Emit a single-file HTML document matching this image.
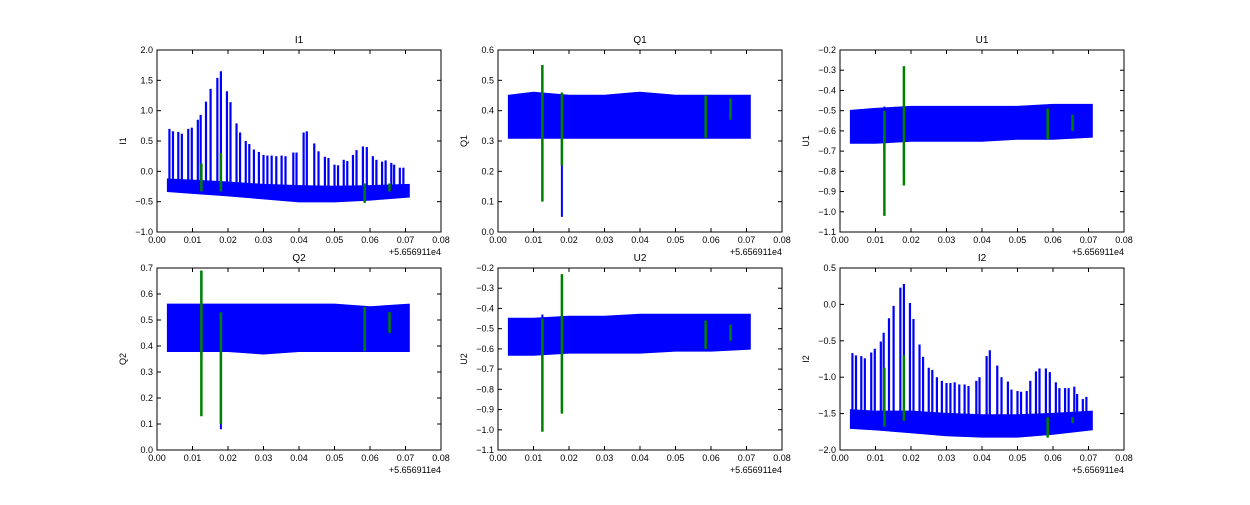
<!DOCTYPE html>
<html><head><meta charset="utf-8"><style>
body{margin:0;background:#fff;}
svg text{font-family:"Liberation Sans",sans-serif;font-size:9px;fill:#000;}
</style></head><body>
<svg id="fig" width="1250" height="500" xmlns="http://www.w3.org/2000/svg"></svg>
<script>
const titles=["I1","Q1","U1","Q2","U2","I2"];
const yMins=[-1,0,-1.1,0,-1.1,-2];
const yMaxs=[2,0.6,-0.2,0.7,-0.2,0.5];
const yTickSteps=[0.5,0.1,0.1,0.1,0.1,0.5];
const xTicks=[0,0.01,0.02,0.03,0.04,0.05,0.06,0.07,0.08];
const xTickLabels=["0.00","0.01","0.02","0.03","0.04","0.05","0.06","0.07","0.08"];
const bandX=[0.003,0.01,0.02,0.03,0.04,0.05,0.06,0.071];
const bandLo=[
 [-0.33,-0.36,-0.4,-0.45,-0.5,-0.5,-0.47,-0.42],
 [0.31,0.31,0.31,0.31,0.31,0.31,0.31,0.31],
 [-0.66,-0.66,-0.65,-0.65,-0.65,-0.64,-0.64,-0.63],
 [0.38,0.38,0.38,0.37,0.38,0.38,0.38,0.38],
 [-0.63,-0.63,-0.62,-0.62,-0.62,-0.61,-0.61,-0.6],
 [-1.7,-1.72,-1.76,-1.8,-1.82,-1.82,-1.78,-1.72]];
const bandHi=[
 [-0.13,-0.15,-0.18,-0.22,-0.24,-0.25,-0.24,-0.22],
 [0.45,0.46,0.45,0.45,0.46,0.45,0.45,0.45],
 [-0.5,-0.49,-0.48,-0.48,-0.48,-0.48,-0.47,-0.47],
 [0.56,0.56,0.56,0.56,0.56,0.56,0.55,0.56],
 [-0.45,-0.45,-0.44,-0.44,-0.43,-0.43,-0.43,-0.43],
 [-1.45,-1.47,-1.47,-1.5,-1.52,-1.52,-1.5,-1.47]];
const spikeX=[0.0035,0.0045,0.006,0.007,0.0088,0.0098,0.0115,0.0123,0.0138,0.0151,0.017,0.018,0.0197,0.0207,0.0224,0.0234,0.025,0.026,0.0273,0.0287,0.03,0.0311,0.0323,0.0336,0.0351,0.0362,0.0384,0.0393,0.0413,0.0422,0.0443,0.0455,0.0473,0.0483,0.05,0.051,0.0526,0.0536,0.0552,0.0562,0.058,0.0591,0.0608,0.0618,0.0634,0.0644,0.066,0.0668,0.0684,0.0694];
const spikeI1=[0.7,0.66,0.65,0.62,0.7,0.72,0.85,0.93,1.15,1.36,1.54,1.65,1.32,1.14,0.79,0.64,0.5,0.45,0.36,0.32,0.27,0.26,0.26,0.25,0.26,0.25,0.31,0.31,0.64,0.66,0.46,0.33,0.24,0.22,0.11,0.1,0.19,0.17,0.27,0.35,0.41,0.4,0.25,0.19,0.16,0.18,0.14,0.11,0.06,0.06];
const spikeI2=[-0.67,-0.7,-0.71,-0.74,-0.66,-0.61,-0.51,-0.39,-0.19,-0.02,0.23,0.28,0.02,-0.2,-0.55,-0.72,-0.87,-0.9,-1.0,-1.05,-1.08,-1.08,-1.07,-1.1,-1.1,-1.12,-1.05,-1.0,-0.71,-0.63,-0.84,-1.0,-1.06,-1.17,-1.19,-1.2,-1.19,-1.05,-0.92,-0.88,-0.88,-0.93,-1.07,-1.15,-1.15,-1.15,-1.13,-1.23,-1.3,-1.27];
const greenX=[0.0125,0.018,0.0585,0.0655];
const greenLo=[[-0.33,-0.33,-0.52,-0.33],[0.1,0.22,0.31,0.37],[-1.02,-0.87,-0.64,-0.6],[0.13,0.1,0.38,0.45],[-1.01,-0.92,-0.6,-0.56],[-1.68,-1.6,-1.83,-1.63]];
const greenHi=[[0.13,0.3,-0.2,-0.2],[0.55,0.46,0.45,0.44],[-0.5,-0.28,-0.49,-0.52],[0.69,0.53,0.55,0.53],[-0.45,-0.23,-0.46,-0.48],[-0.87,-0.7,-1.55,-1.55]];
const blueDipX=[0.0125,0.018];
const blueDipLo=[[-0.35,-0.35],[0.29,0.05],[-0.7,-0.8],[0.36,0.08],[-0.65,-0.86],[-1.7,-1.7]];
const blueDipHi=[[-0.2,-0.2],[0.55,0.46],[-0.48,-0.47],[0.69,0.55],[-0.43,-0.43],[-1.5,-1.5]];

const NS="http://www.w3.org/2000/svg";
const svg=document.getElementById('fig');
const colX=[157,498,840],rowY=[50,268],W=284,H=182;
function mk(tag,attrs,parent){const e=document.createElementNS(NS,tag);for(const k in attrs)e.setAttribute(k,attrs[k]);parent.appendChild(e);return e;}
titles.forEach((t,i)=>{
 const x0=colX[i%3],y0=rowY[Math.floor(i/3)];
 const g=mk('g',{},svg);
 
 
 const sx=v=>x0+v/0.08*W, sy=v=>y0+H-(v-yMins[i])/(yMaxs[i]-yMins[i])*H;
 let pts=bandX.map((x,k)=>sx(x)+','+sy(bandHi[i][k])).concat(bandX.slice().reverse().map((x,k)=>sx(x)+','+sy(bandLo[i][bandX.length-1-k])));
 const band=mk('polygon',{points:pts.join(' '),fill:'#0000ff',stroke:'#0000ff','stroke-width':1.5},g);
 
 
 const peaks=i===0?spikeI1:(i===5?spikeI2:null);
 if(peaks){spikeX.forEach((x,k)=>{
  const l=mk('line',{x1:sx(x),x2:sx(x),y1:sy(bandHi[i][0]-0.05*(yMaxs[i]-yMins[i])),y2:sy(peaks[k]),stroke:'#0000ff','stroke-width':2.2},g);
  
  
 });}
 blueDipX.forEach((x,k)=>{
  const l=mk('line',{x1:sx(x),x2:sx(x),y1:sy(blueDipLo[i][k]),y2:sy(blueDipHi[i][k]),stroke:'#0000ff','stroke-width':2},g);
  
  
 });
 greenX.forEach((x,k)=>{
  const l=mk('line',{x1:sx(x),x2:sx(x),y1:sy(greenLo[i][k]),y2:sy(greenHi[i][k]),stroke:'#008000','stroke-width':2.5},g);
  
  
 });
 const fr=mk('rect',{x:x0,y:y0,width:W,height:H,fill:'none',stroke:'#000','stroke-width':1},g);
 
 
 xTicks.forEach((v,k)=>{
  const X=sx(v);
  mk('line',{x1:X,x2:X,y1:y0+H,y2:y0+H-4,stroke:'#000'},g);
  mk('line',{x1:X,x2:X,y1:y0,y2:y0+4,stroke:'#000'},g);
  const tx=mk('text',{x:X,y:y0+H+11,'text-anchor':'middle'},g);
  tx.textContent=xTickLabels[k];
  
  
 });
 const n=Math.round((yMaxs[i]-yMins[i])/yTickSteps[i]);
 for(let k=0;k<=n;k++){
  const v=yMins[i]+k*yTickSteps[i],Y=sy(v);
  mk('line',{x1:x0,x2:x0+4,y1:Y,y2:Y,stroke:'#000'},g);
  mk('line',{x1:x0+W,x2:x0+W-4,y1:Y,y2:Y,stroke:'#000'},g);
  const tx=mk('text',{x:x0-4,y:Y+3,'text-anchor':'end'},g);
  tx.textContent=(Math.abs(v)<1e-9?0:v).toFixed(1).replace('-','\u2212');
  
  
 }
 const off=mk('text',{x:x0+W,y:y0+H+23,'text-anchor':'end'},g);
 off.textContent='+5.656911e4';
 
 
 const ti=mk('text',{x:x0+W/2,y:y0-7,'text-anchor':'middle',style:'font-size:10px'},g);
 ti.textContent=t;
 
 
 const yl=mk('text',{x:0,y:0,'text-anchor':'middle',transform:`translate(${x0-31},${y0+H/2}) rotate(-90)`},g);
 yl.textContent=t;
 
 
});
</script>
</body></html>
